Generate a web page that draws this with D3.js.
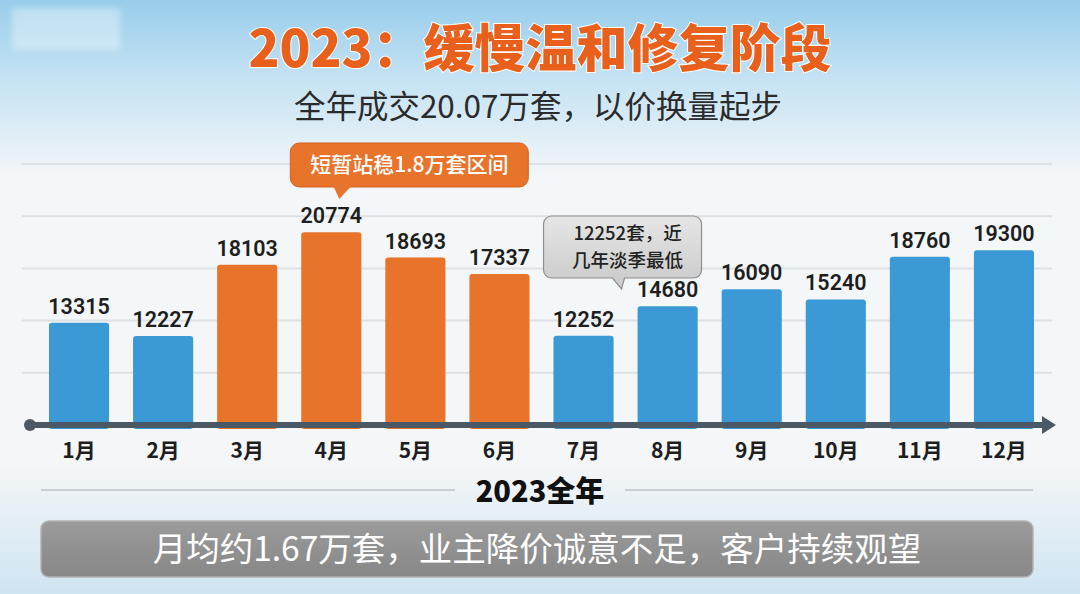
<!DOCTYPE html>
<html>
<head>
<meta charset="utf-8">
<script src="https://cdn.jsdelivr.net/npm/d3@7"></script>
<style>
body{margin:0;background:#fff;}
svg{display:block;}
</style>
</head>
<body>
<div id="chart-area"></div>
<script>
// data
var months = ["1月","2月","3月","4月","5月","6月","7月","8月","9月","10月","11月","12月"];
var sales = [13315,12227,18103,20774,18693,17337,12252,14680,16090,15240,18760,19300];
var hot = ["3月","4月","5月","6月"];

var title = "2023：缓慢温和修复阶段";
var subtitle = "全年成交20.07万套，以价换量起步";
var axisTitle = "2023全年";
var footNote = "月均约1.67万套，业主降价诚意不足，客户持续观望";
var noteOrange = "短暂站稳1.8万套区间";
var noteGray = ["12252套，近","几年淡季最低"];

var W = 1080, H = 594;
var plotTop = 164, axisY = 425;
var cjk = "'Noto Sans CJK SC', 'Noto Sans', sans-serif";
var num = "Roboto, 'Noto Sans CJK SC', sans-serif";
var blue = "#3b9ad6", orange = "#e8732a";

var svg = d3.select("#chart-area").append("svg")
	.attr("width", W)
	.attr("height", H);

var defs = svg.append("defs");
var bg = defs.append("linearGradient").attr("id","bg").attr("x1",0).attr("y1",0).attr("x2",0).attr("y2",1);
bg.append("stop").attr("offset","0%").attr("stop-color","#98cdeb");
bg.append("stop").attr("offset","13%").attr("stop-color","#c4e2f3");
bg.append("stop").attr("offset","30%").attr("stop-color","#f4f7f9");
bg.append("stop").attr("offset","78%").attr("stop-color","#f4f6f7");
bg.append("stop").attr("offset","100%").attr("stop-color","#cfe5f2");

var gGray = defs.append("linearGradient").attr("id","noteGray").attr("x1",0).attr("y1",0).attr("x2",0).attr("y2",1);
gGray.append("stop").attr("offset","0%").attr("stop-color","#e6e6e6");
gGray.append("stop").attr("offset","100%").attr("stop-color","#c9c9c9");

var gFoot = defs.append("linearGradient").attr("id","foot").attr("x1",0).attr("y1",0).attr("x2",0).attr("y2",1);
gFoot.append("stop").attr("offset","0%").attr("stop-color","#9b9b9b");
gFoot.append("stop").attr("offset","100%").attr("stop-color","#878787");

defs.append("filter").attr("id","blur").append("feGaussianBlur").attr("stdDeviation",3);

svg.append("rect").attr("width",W).attr("height",H).attr("fill","url(#bg)");

// blurred watermark box top-left
svg.append("rect")
	.attr("x",12).attr("y",8).attr("width",108).attr("height",42).attr("rx",3)
	.attr("fill","#ffffff").attr("opacity",0.35).attr("filter","url(#blur)");

// titles
svg.append("text")
	.attr("x",540).attr("y",67)
	.attr("text-anchor","middle")
	.style("font-family",cjk).style("font-weight",900).style("font-size","51px")
	.attr("fill","#e8601c")
	.attr("stroke","#fff").attr("stroke-width",2).attr("paint-order","stroke")
	.text(title);

svg.append("text")
	.attr("x",538).attr("y",118)
	.attr("text-anchor","middle")
	.style("font-family",cjk).style("font-size","31.5px")
	.attr("fill","#2b2b2b")
	.text(subtitle);

// scales
var x = d3.scaleBand()
	.domain(months)
	.range([37, 1046])
	.paddingInner(0.285)
	.paddingOuter(0.1425);

var y = d3.scaleLinear()
	.domain([4900, 26400])
	.range([axisY, plotTop]);

// gridlines
var grid = d3.range(5).map(function(i){ return plotTop + i*(axisY - plotTop)/5; });
svg.selectAll("line.grid")
	.data(grid)
	.enter().append("line")
	.attr("class","grid")
	.attr("x1",22).attr("x2",1052)
	.attr("y1",function(d){return d;}).attr("y2",function(d){return d;})
	.attr("stroke","#dde1e4").attr("stroke-width",2);

// bars
svg.selectAll("rect.bar")
	.data(sales)
	.enter().append("rect")
	.attr("class","bar")
	.attr("x",function(d,i){return x(months[i]);})
	.attr("y",function(d){return y(d);})
	.attr("width",x.bandwidth())
	.attr("height",function(d){return axisY - y(d) + 4;})
	.attr("rx",3)
	.attr("fill",function(d,i){
		if(hot.indexOf(months[i]) >= 0){
			return orange}
			else return blue;
		});

// value labels
svg.selectAll("text.val")
	.data(sales)
	.enter().append("text")
	.attr("class","val")
	.attr("x",function(d,i){return x(months[i]) + x.bandwidth()/2;})
	.attr("y",function(d){return y(d) - 9;})
	.attr("text-anchor","middle")
	.style("font-family",num).style("font-weight",600).style("font-size","21.5px")
	.attr("fill","#1e1e1e")
	.text(function(d){return d;});

// axis line with dot and arrow
var ax = svg.append("g").attr("fill","#4b5866");
ax.append("rect").attr("x",26).attr("y",axisY-3).attr("width",1020).attr("height",6).attr("rx",3);
ax.append("circle").attr("cx",30).attr("cy",axisY).attr("r",6);
ax.append("path").attr("d","M1042," + (axisY-9) + " L1056," + axisY + " L1042," + (axisY+9) + " Z");

// month labels
svg.selectAll("text.month")
	.data(months)
	.enter().append("text")
	.attr("class","month")
	.attr("x",function(d){return x(d) + x.bandwidth()/2;})
	.attr("y",458)
	.attr("text-anchor","middle")
	.style("font-family",cjk).style("font-weight",700).style("font-size","21px")
	.attr("fill","#1e1e1e")
	.text(function(d){return d;});

// axis title with side rules
svg.append("line").attr("x1",41).attr("x2",455).attr("y1",490).attr("y2",490).attr("stroke","#c9ced2").attr("stroke-width",2);
svg.append("line").attr("x1",625).attr("x2",1033).attr("y1",490).attr("y2",490).attr("stroke","#c9ced2").attr("stroke-width",2);
svg.append("text")
	.attr("x",540).attr("y",502)
	.attr("text-anchor","middle")
	.style("font-family",cjk).style("font-weight",900).style("font-size","29px")
	.attr("fill","#111")
	.text(axisTitle);

// footer banner
svg.append("rect")
	.attr("x",41).attr("y",521).attr("width",992).attr("height",56).attr("rx",8)
	.attr("fill","url(#foot)").attr("stroke","#b3b3b3").attr("stroke-width",1.5);
svg.append("text")
	.attr("x",537).attr("y",561)
	.attr("text-anchor","middle")
	.style("font-family",cjk).style("font-size","33.5px")
	.attr("fill","#ffffff")
	.text(footNote);

// orange callout above April
var tipX = x("4月") + x.bandwidth()/2 + 8, tipY = 199;
var o = svg.append("g");
o.append("rect")
	.attr("x",tipX-49).attr("y",143).attr("width",238).attr("height",44).attr("rx",9)
	.attr("fill",orange).attr("stroke","#d2621e").attr("stroke-width",1);
o.append("path")
	.attr("d","M" + (tipX-6) + ",186 L" + tipX + "," + tipY + " L" + (tipX+12) + ",186 Z")
	.attr("fill",orange);
o.append("text")
	.attr("x",tipX+70).attr("y",172)
	.attr("text-anchor","middle")
	.style("font-family",cjk).style("font-weight",500).style("font-size","21px")
	.attr("fill","#fff")
	.text(noteOrange);

// gray callout near July
var gx = x("7月") + x.bandwidth()/2 + 38, gy = 289;
var g = svg.append("g");
g.append("path")
	.attr("d","M" + (gx-70) + ",216 h142 a8,8 0 0 1 8,8 v46 a8,8 0 0 1 -8,8 H" + (gx+3) +
		" L" + gx + "," + gy + " L" + (gx-9) + ",278 H" + (gx-70) + " a8,8 0 0 1 -8,-8 v-46 a8,8 0 0 1 8,-8 Z")
	.attr("fill","url(#noteGray)").attr("stroke","#8e8e8e").attr("stroke-width",1.2);
g.selectAll("text")
	.data(noteGray)
	.enter().append("text")
	.attr("x",gx+6)
	.attr("y",function(d,i){return 240 + i*27;})
	.attr("text-anchor","middle")
	.style("font-family",cjk).style("font-weight",500).style("font-size","18.5px")
	.attr("fill","#222")
	.text(function(d){return d;});
</script>
</body>
</html>
